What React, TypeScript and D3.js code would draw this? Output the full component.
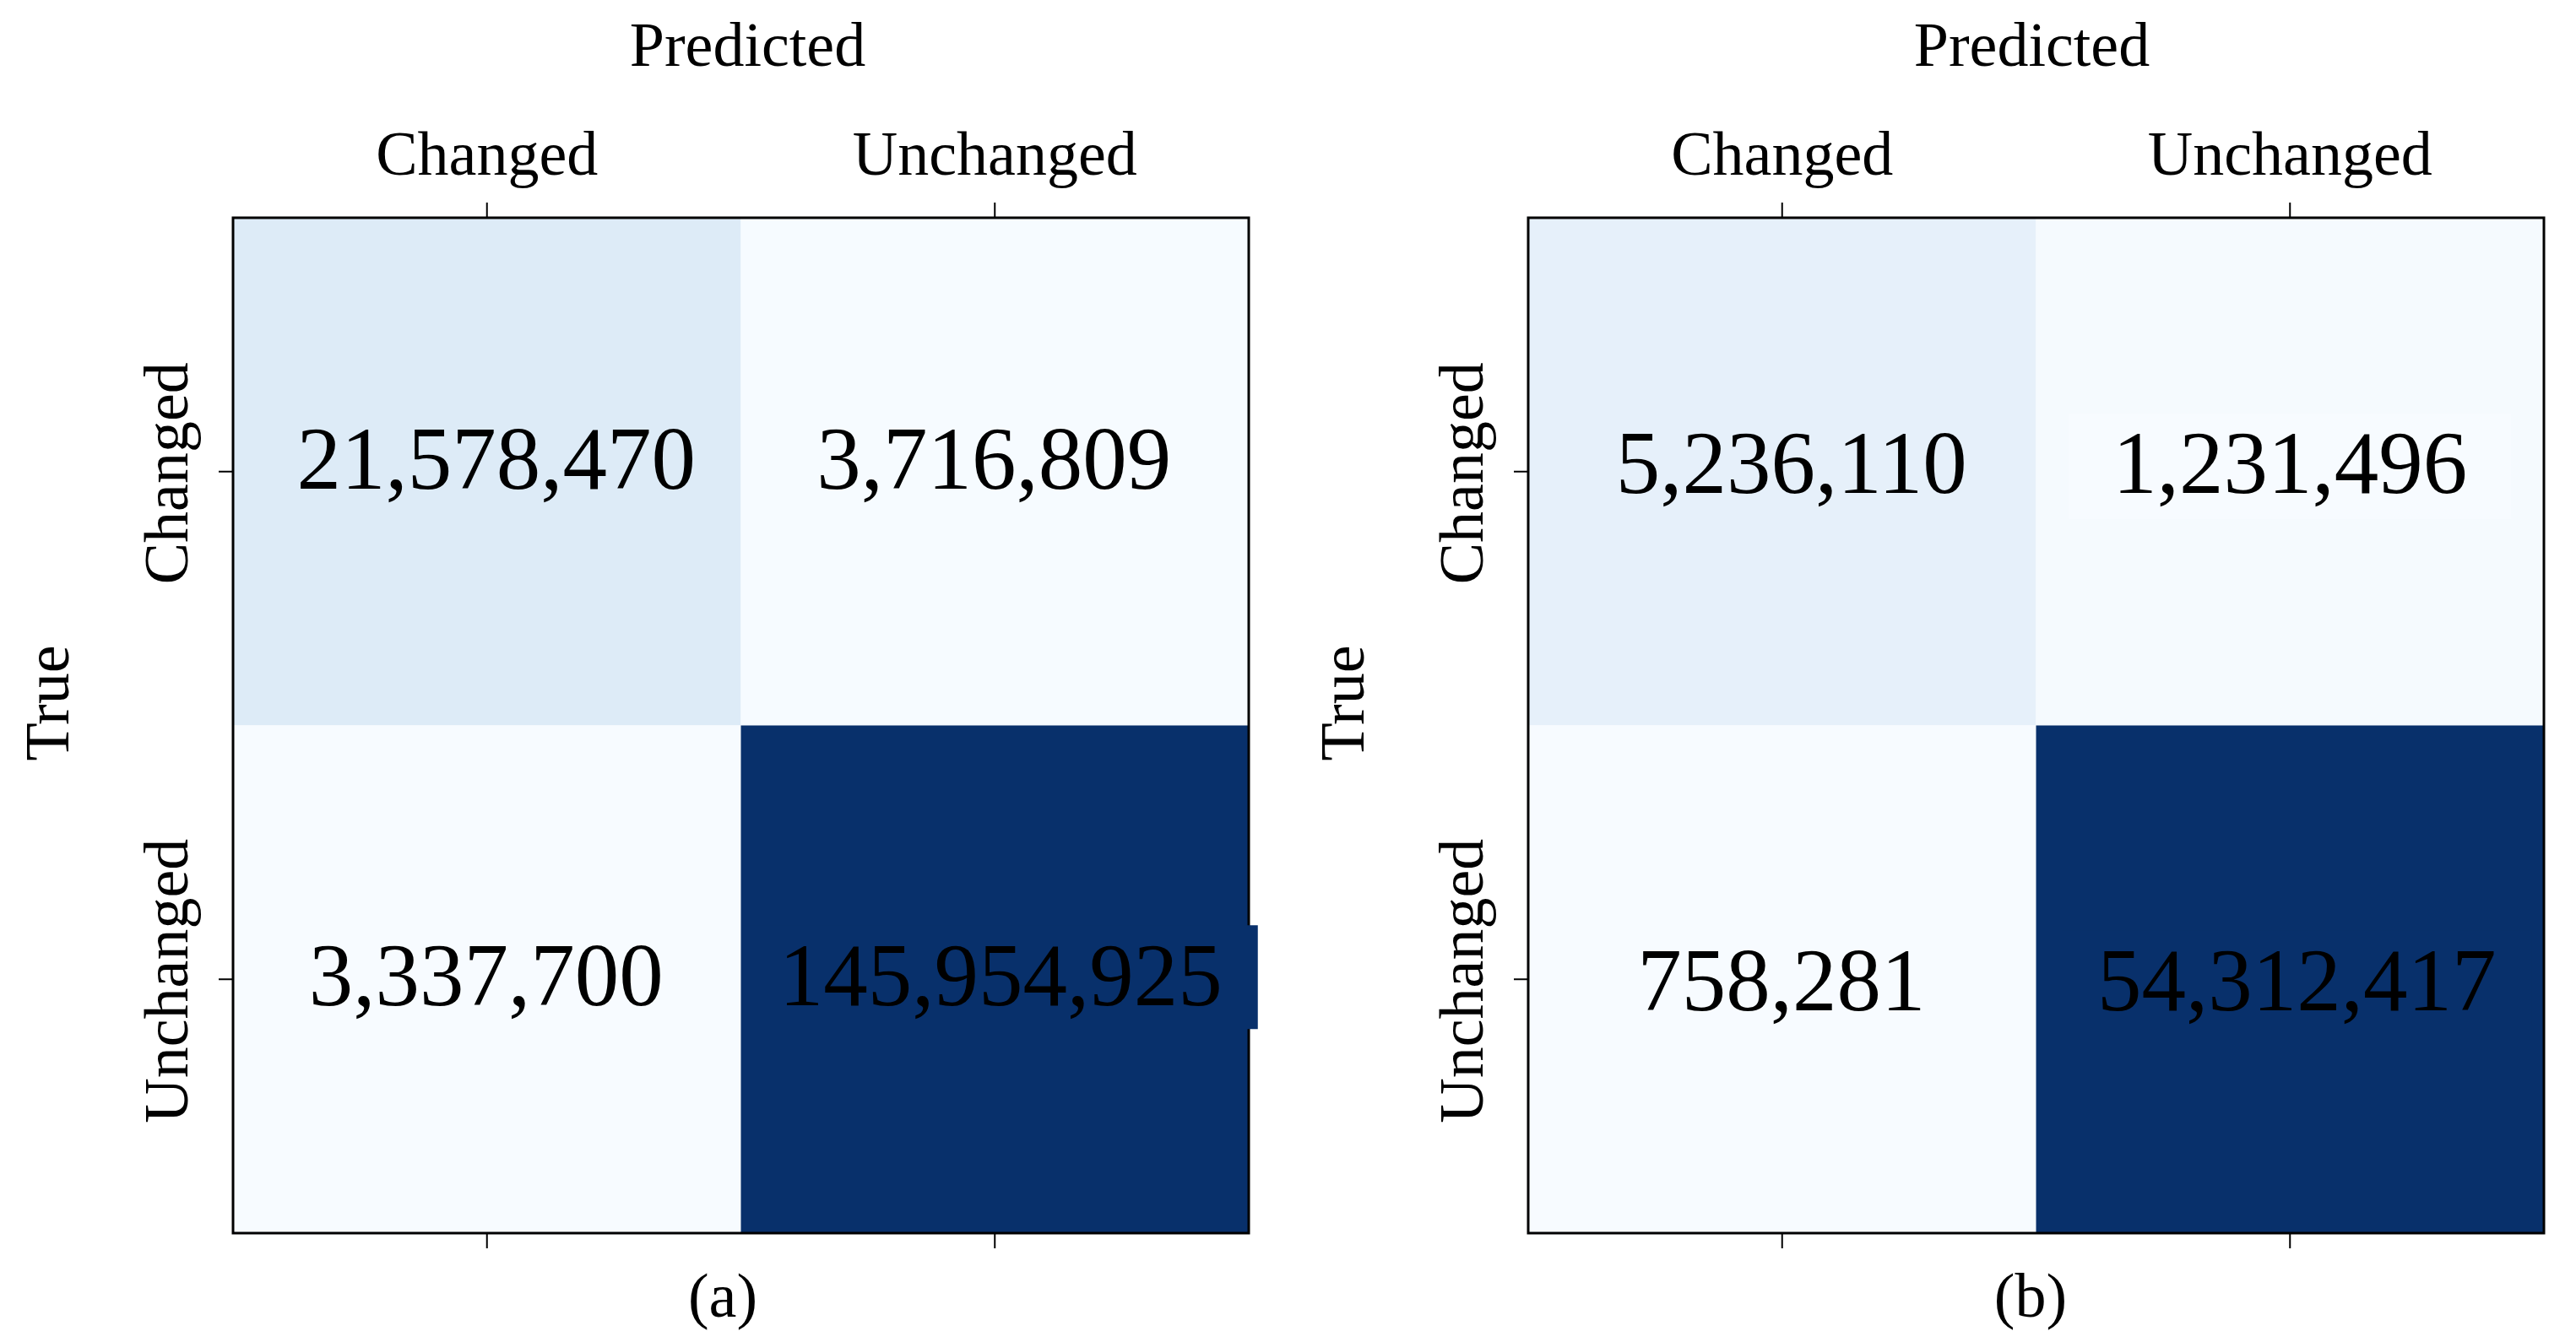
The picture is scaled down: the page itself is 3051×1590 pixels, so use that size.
import React from "react";
import * as d3 from "d3";

const labels = ["Changed", "Unchanged"];
const panelAValues = [
  [21578470, 3716809],
  [3337700, 145954925],
];
const panelBValues = [
  [5236110, 1231496],
  [758281, 54312417],
];
const captions = ["(a)", "(b)"];
const xTitle = "Predicted";
const yTitle = "True";
const bluesStops = ["#f7fbff", "#deebf7", "#c6dbef", "#9ecae1", "#6baed6", "#4292c6", "#2171b5", "#08519c", "#08306b"];

const W = 3051;
const H = 1590;
const FONT = "'Liberation Serif', 'Times New Roman', 'DejaVu Serif', serif";

type PanelCfg = {
  values: number[][];
  caption: string;
  x0: number;
  captionX: number;
  titleDx: number;
  rowOffsets: number[];
  cellDx: number[][];
};

const panels: PanelCfg[] = [
  { values: panelAValues, caption: captions[0], x0: 276, captionX: 856, titleDx: 8, rowOffsets: [20, 31], cellDx: [[11, -1], [-1, 7]] },
  { values: panelBValues, caption: captions[1], x0: 1810, captionX: 2405, titleDx: -5, rowOffsets: [25, 37], cellDx: [[11, 0], [-1, 8]] },
];

const SIZE = 1203;
const Y0 = 258;
const NUM_FS = 105;

function Panel({ cfg }: { cfg: PanelCfg }) {
  const x = d3.scaleBand<string>().domain(labels).range([cfg.x0, cfg.x0 + SIZE]).padding(0);
  const y = d3.scaleBand<string>().domain(labels).range([Y0, Y0 + SIZE]).padding(0);
  const flat = cfg.values.flat();
  const norm = d3.scaleLinear().domain([d3.min(flat)!, d3.max(flat)!]).range([0, 1]);
  const cmap = d3
    .scaleLinear<string>()
    .domain(d3.range(bluesStops.length).map((i) => i / (bluesStops.length - 1)))
    .range(bluesStops)
    .interpolate(d3.interpolateRgb)
    .clamp(true);
  const fmt = d3.format(",");
  const bw = x.bandwidth();
  const bh = y.bandwidth();
  const bottom = Y0 + SIZE;
  const plotCx = cfg.x0 + SIZE / 2;

  return (
    <g>
      {cfg.values.map((row, ri) =>
        row.map((v, ci) => (
          <rect
            key={`c${ri}${ci}`}
            x={x(labels[ci])!}
            y={y(labels[ri])!}
            width={bw}
            height={bh}
            fill={cmap(norm(v))}
          />
        ))
      )}
      <rect x={cfg.x0} y={Y0} width={SIZE} height={SIZE} fill="none" stroke="#000" strokeWidth={3} />
      {cfg.values.map((row, ri) =>
        row.map((v, ci) => {
          const t = norm(v);
          const cx = x(labels[ci])! + bw / 2 + cfg.cellDx[ri][ci];
          const by = y(labels[ri])! + bh / 2 + cfg.rowOffsets[ri];
          const txt = fmt(v);
          const commas = txt.split(",").length - 1;
          const tw = (txt.length - commas) * 0.5 * NUM_FS + commas * 0.25 * NUM_FS;
          const cellLeft = x(labels[ci])!;
          if (t > 0.99) {
            const left = Math.max(cellLeft + 2, cx - tw / 2 - 42);
            const rightEdge = cx + tw / 2 + 42;
            return (
              <rect key={`b${ri}${ci}`} x={left} y={by - 95} width={rightEdge - left} height={123} fill={bluesStops[8]} />
            );
          }
          if (t > 0.005 && t < 0.02) {
            return (
              <rect key={`b${ri}${ci}`} x={cx - tw / 2 - 52} y={by - 94} width={tw + 104} height={125} fill="#f7fbff" />
            );
          }
          return null;
        })
      )}
      {cfg.values.map((row, ri) =>
        row.map((v, ci) => (
          <text
            key={`t${ri}${ci}`}
            x={x(labels[ci])! + bw / 2 + cfg.cellDx[ri][ci]}
            y={y(labels[ri])! + bh / 2 + cfg.rowOffsets[ri]}
            textAnchor="middle"
            fontSize={NUM_FS}
            fontFamily={FONT}
            fill="#000"
          >
            {fmt(v)}
          </text>
        ))
      )}
      {labels.map((l) => {
        const cx = x(l)! + bw / 2;
        return (
          <g key={`xt${l}`}>
            <line x1={cx} x2={cx} y1={Y0 - 18} y2={Y0} stroke="#000" strokeWidth={2} />
            <line x1={cx} x2={cx} y1={bottom} y2={bottom + 18} stroke="#000" strokeWidth={2} />
            <text x={cx} y={207} textAnchor="middle" fontSize={74} fontFamily={FONT}>
              {l}
            </text>
          </g>
        );
      })}
      {labels.map((l) => {
        const cy = y(l)! + bh / 2;
        return (
          <g key={`yt${l}`}>
            <line x1={cfg.x0 - 17} x2={cfg.x0} y1={cy} y2={cy} stroke="#000" strokeWidth={2} />
            <text
              transform={`translate(${cfg.x0 - 54},${cy + 2}) rotate(-90)`}
              textAnchor="middle"
              fontSize={74}
              fontFamily={FONT}
            >
              {l}
            </text>
          </g>
        );
      })}
      <text x={plotCx + cfg.titleDx} y={78} textAnchor="middle" fontSize={74} fontFamily={FONT}>
        {xTitle}
      </text>
      <text
        transform={`translate(${cfg.x0 - 195},${833}) rotate(-90)`}
        textAnchor="middle"
        fontSize={74}
        fontFamily={FONT}
      >
        {yTitle}
      </text>
      <text x={cfg.captionX} y={1560} textAnchor="middle" fontSize={74} fontFamily={FONT}>
        {cfg.caption}
      </text>
    </g>
  );
}

export default function App() {
  return (
    <div style={{ position: "absolute", left: 0, top: 0, width: W, height: H, background: "#fff" }}>
      <svg width={W} height={H} viewBox={`0 0 ${W} ${H}`} style={{ display: "block" }}>
        <rect x={0} y={0} width={W} height={H} fill="#fff" />
        {panels.map((p, i) => (
          <Panel key={i} cfg={p} />
        ))}
      </svg>
    </div>
  );
}
